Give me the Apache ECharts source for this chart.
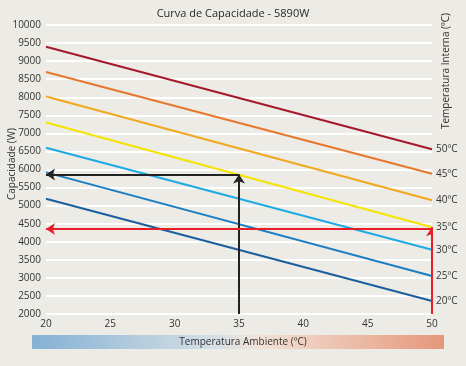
<!DOCTYPE html>
<html><head><meta charset="utf-8">
<script src="https://cdn.jsdelivr.net/npm/echarts@6/dist/echarts.min.js"></script>
<style>html,body{margin:0;padding:0;background:#ecebe5;}#c{width:466px;height:366px;}</style>
</head><body><div id="c"></div>
<script>
const xTicks = [20, 25, 30, 35, 40, 45, 50];
const ambient = [20, 50];
const seriesNames = ['50ºC', '45ºC', '40ºC', '35ºC', '30ºC', '25ºC', '20ºC'];
const cap50 = [9400, 6560];
const cap45 = [8700, 5880];
const cap40 = [8020, 5150];
const cap35 = [7300, 4400];
const cap30 = [6600, 3780];
const cap25 = [5920, 3050];
const cap20 = [5190, 2360];
const colors = ['#a5182c', '#e8772e', '#f0a81e', '#f4e400', '#1eaae2', '#1b7dc2', '#1a5e9f'];
const blackPath = [[35, 2000], [35, 5860], [20, 5860]];
const redPath = [[50, 2000], [50, 4400], [50, 4350], [20, 4350]];

const caps = [cap50, cap45, cap40, cap35, cap30, cap25, cap20];
const FONT = 'Open Sans';
const lineSeries = caps.map((c, i) => ({
  type: 'line', name: seriesNames[i], data: ambient.map((x, j) => [x, c[j]]),
  symbol: 'none', lineStyle: {color: colors[i], width: 2}, z: 3,
  endLabel: {show: true, formatter: seriesNames[i], color: '#333', fontFamily: FONT, fontSize: 10, distance: 4},
  silent: true
}));
function arrowSeries(seg, color) {
  return {
    type: 'lines', coordinateSystem: 'cartesian2d', z: 5, silent: true,
    symbol: ['none', 'arrow'], symbolSize: 9,
    lineStyle: {color: color, width: 2, opacity: 1},
    data: seg.map(s => ({coords: s}))
  };
}
const chart = echarts.init(document.getElementById('c'));
chart.setOption({
  backgroundColor: '#ecebe5',
  animation: false,
  title: {text: 'Curva de Capacidade - 5890W', left: 'center', top: 3,
    textStyle: {fontFamily: FONT, fontSize: 11, fontWeight: 'normal', color: '#2a2a2a'}},
  grid: {left: 46, right: 34, top: 25, bottom: 52, containLabel: false, outerBoundsMode: 'none'},
  xAxis: {type: 'value', min: 20, max: 50, interval: 5,
    axisLine: {show: false}, axisTick: {show: false}, splitLine: {show: false},
    axisLabel: {color: '#333', fontFamily: FONT, fontSize: 10, margin: 5,
      formatter: v => xTicks.includes(v) ? String(v) : ''}},
  yAxis: {type: 'value', min: 2000, max: 10000, interval: 500,
    axisLine: {show: false}, axisTick: {show: false},
    splitLine: {lineStyle: {color: '#ffffff', width: 2}},
    axisLabel: {color: '#333', fontFamily: FONT, fontSize: 10, margin: 5, formatter: v => String(v)}},
  graphic: [
    {type: 'rect', shape: {x: 32, y: 335, width: 412, height: 14}, z: 1,
      style: {fill: new echarts.graphic.LinearGradient(0, 0, 1, 0, [
        {offset: 0, color: '#85b1d3'}, {offset: 0.45, color: '#d6e0e6'},
        {offset: 0.55, color: '#f2e2d6'}, {offset: 1, color: '#e6977b'}])}},
    {type: 'text', x: 243, y: 342, z: 2, style: {text: 'Temperatura Ambiente (ºC)', fill: '#333',
      font: '10px "Open Sans"', textAlign: 'center', textVerticalAlign: 'middle'}},
    {type: 'text', x: 446, y: 71, rotation: Math.PI / 2, z: 2, style: {text: 'Temperatura Interna (ºC)', fill: '#333',
      font: '10px "Open Sans"', textAlign: 'center', textVerticalAlign: 'middle'}},
    {type: 'text', x: 12, y: 164, rotation: Math.PI / 2, z: 2, style: {text: 'Capacidade (W)', fill: '#333',
      font: '10px "Open Sans"', textAlign: 'center', textVerticalAlign: 'middle'}}
  ],
  series: lineSeries.concat([
    arrowSeries([[blackPath[0], blackPath[1]], [blackPath[1], blackPath[2]]], '#222'),
    arrowSeries([[redPath[0], redPath[1]], [redPath[2], redPath[3]]], '#e61e28')
  ])
});
</script></body></html>
